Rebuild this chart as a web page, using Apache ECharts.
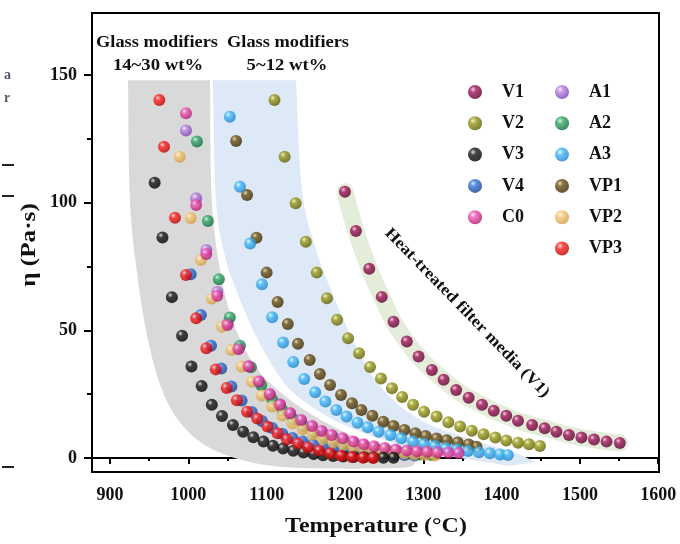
<!DOCTYPE html>
<html><head><meta charset="utf-8">
<script src="https://cdn.jsdelivr.net/npm/echarts@6/dist/echarts.min.js"></script>
<style>html,body{margin:0;padding:0;background:#fff}#c{width:680px;height:544px}</style>
</head><body><div id="c"></div>
<script>
// ---------------- data ----------------
const v1T  = [1200,1214,1231,1247,1262,1279,1294,1311,1326,1342,1358,1375,1390,1406,1421,1439,1455,1470,1486,1502,1518,1534,1551];
const v1Eta= [104.3,88.9,74.1,63.1,53.4,45.6,39.7,34.5,30.6,26.6,23.6,20.8,18.5,16.5,14.6,12.9,11.6,10.3,9.0,8.0,7.2,6.4,5.9];

const v2T  = [1110,1123,1137,1150,1164,1177,1190,1204,1218,1232,1246,1260,1273,1287,1301,1317,1332,1347,1362,1377,1392,1406,1421,1435,1449];
const v2Eta= [140.2,118,99.8,84.7,72.6,62.6,54.1,46.9,41,35.6,31.1,27.3,23.9,20.8,18.1,16.2,14,12.3,10.7,9.3,8,6.8,6,5.4,4.7];

const v3T  = [957,967,979,992,1004,1017,1030,1043,1057,1070,1083,1096,1108,1121,1134,1147,1160,1172,1185,1198,1211,1224,1236,1249,1262];
const v3Eta= [107.8,86.4,63,47.9,35.8,28.2,20.8,16.4,12.9,10.3,8.1,6.4,4.8,3.7,2.8,2.1,1.5,1.1,0.8,0.6,0.4,0.3,0.2,0.1,0.1];

const v4T  = [1003,1016,1029,1042,1055,1068,1081,1094,1107,1120,1133,1146,1159,1172,1185,1198,1211,1224,1237,1250,1263,1276,1289];
const v4Eta= [72,56,44,35,28,22.5,18,14.5,11.7,9.5,7.8,6.4,5.3,4.4,3.7,3.1,2.6,2.2,1.9,1.6,1.4,1.2,1.0];

const c0T  = [997,1010,1023,1037,1050,1064,1077,1090,1104,1117,1130,1144,1158,1170,1183,1197,1211,1224,1237,1251,1265,1279,1292,1305,1318,1332,1345];
const c0Eta= [135,99.1,79.9,63.5,52.1,42.6,35.8,29.9,25,20.8,17.5,14.9,12.5,10.6,9,7.7,6.4,5.4,4.6,3.9,3.3,2.9,2.6,2.4,2.2,2.0,1.9];

const a1T  = [997,1010,1023,1037,1050,1064,1077,1090,1104,1117,1130,1144,1158,1171,1184,1198,1211,1224,1238,1251,1264,1278,1291,1305];
const a1Eta= [128.3,101.7,81.5,65,52.8,43.2,36,30,25,21,17.5,14.6,12.2,10.2,8.6,7.2,6,5,4.2,3.5,3,2.5,2.1,1.8];

const a2T  = [1011,1025,1039,1053,1066,1080,1093,1107,1120,1134,1147,1161,1174,1188,1201,1215,1228,1242,1255,1269,1282,1296,1310];
const a2Eta= [124,92.8,70,55,44,35.5,28.5,23,18.8,15.3,12.5,10.2,8.3,6.8,5.5,4.5,3.7,3,2.5,2.1,1.7,1.4,1.2];

const a3T  = [1053,1066,1079,1094,1107,1121,1134,1148,1162,1175,1189,1202,1216,1229,1243,1258,1272,1287,1301,1315,1329,1343,1357,1371,1385,1398,1408];
const a3Eta= [133.7,106.2,84,68,55.1,45.2,37.6,30.9,25.7,22.1,18.8,16.2,13.8,12,10.3,9,7.7,6.4,5.5,4.7,3.9,3.3,2.7,2.2,1.8,1.4,1.2];

const vp1T = [1061,1075,1087,1100,1114,1127,1140,1155,1168,1181,1195,1209,1221,1235,1249,1262,1276,1290,1303,1317,1330,1344,1358,1368];
const vp1Eta=[124.2,103,86.3,72.6,61.1,52.5,44.7,38.4,32.9,28.6,24.7,21.4,18.8,16.5,14.2,12.5,11,9.7,8.6,7.6,6.9,6.1,5.3,4.4];

const vp2T = [989,1003,1016,1030,1043,1055,1068,1081,1094,1107,1120,1133,1146,1159,1172,1185,1198,1211,1224,1237,1250,1263,1276,1289,1302,1315];
const vp2Eta=[118,94,77.5,62.5,51.4,42.3,35.8,29.9,24.5,20.2,16.6,13.6,11.2,9.2,7.5,6.2,5.1,4.2,3.5,2.9,2.4,2,1.7,1.4,1.2,1];

const vp3T = [963,969,983,997,1010,1023,1035,1049,1062,1075,1088,1101,1114,1126,1140,1153,1167,1181,1195,1209,1223,1236];
const vp3Eta=[140.2,121.9,94.1,71.7,54.7,43,34.7,27.4,22.6,18.1,15.5,12.3,9.7,7.3,5.8,4.2,2.9,1.8,0.9,0.4,0.1,0];

// shaded guide bands, edges in data coordinates (top to bottom)
const grayOuter = [[923,148],[925.5,100],[935.7,69.7],[948.5,46.2],[966.4,26.6],[992,12.9],[1027.7,3.9],[1078.8,-1.6],[1142.6,-3.9],[1270,-3.9],[1289.5,-1.6]];
const grayInner = [[1027.7,148],[1030,100],[1043,69.7],[1061,50.1],[1089,34.5],[1130,22.7],[1181,12.9],[1232,5.9],[1283,0]];
const blueOuter = [[1031.5,148],[1035.4,100],[1048,77.6],[1066,62],[1089,46.2],[1119.7,30.5],[1149,21.9],[1193.7,13.7],[1257.6,6.3],[1334,0.8],[1411,-3.1]];
const blueInner = [[1137.5,148],[1145,105],[1163,81.5],[1183.5,65],[1213,44.3],[1247,27.4],[1296,14.9],[1360,7.4],[1417,2],[1443,-1.6]];

const xMajor = [900,1000,1100,1200,1300,1400,1500,1600];
const xMinor = [950,1050,1150,1250,1350,1450,1550];
const yMajor = [0,50,100,150];
const yMinor = [25,75,125];

const legendCol1 = ['V1','V2','V3','V4','C0'];
const legendCol2 = ['A1','A2','A3','VP1','VP2','VP3'];

// ---------------- chart ----------------
const FONT = 'Liberation Serif';
function ball(base, dark, hi){
  return {type:'radial', x:0.36, y:0.32, r:0.7,
    colorStops:[{offset:0,color:hi||'#ffffff'},{offset:0.32,color:base},{offset:1,color:dark}]};
}
function pts(t,e){ return t.map((x,i)=>[x,e[i]]); }
function sc(name,t,e,base,dark,hi){
  return {name, type:'scatter', data:pts(t,e), symbol:'circle', symbolSize:12,
    itemStyle:{color:ball(base,dark,hi)}, emphasis:{disabled:true}, z:3};
}
function spline(P, n){
  const out=[];
  for(let i=0;i<P.length-1;i++){
    const p0=P[Math.max(i-1,0)], p1=P[i], p2=P[i+1], p3=P[Math.min(i+2,P.length-1)];
    for(let k=0;k<n;k++){
      const t=k/n, t2=t*t, t3=t2*t;
      out.push([0,1].map(j=>0.5*((2*p1[j])+(-p0[j]+p2[j])*t+(2*p0[j]-5*p1[j]+4*p2[j]-p3[j])*t2+(-p0[j]+3*p1[j]-3*p2[j]+p3[j])*t3)));
    }
  }
  out.push(P[P.length-1]);
  return out;
}
function band(outer, inner, color){
  return {type:'custom', silent:true, clip:true, z:1, data:[[1000,50]],
    renderItem:(params, api)=>{
      const o=spline(outer.map(q=>api.coord(q)),8);
      const i=spline(inner.map(q=>api.coord(q)),8).reverse();
      return {type:'polygon', shape:{points:o.concat(i)}, style:{fill:color}};
    }};
}

const chart = echarts.init(document.getElementById('c'));
const legendBase = {orient:'vertical', padding:0, itemWidth:14, itemHeight:14, itemGap:13.3, icon:'circle',
  textStyle:{fontFamily:FONT, fontWeight:'bold', fontSize:18, color:'#111', padding:[0,0,0,15]}, selectedMode:false};
const plain = v => String(v);
const T = (text, x, y, size, opt) => Object.assign({type:'text', x, y,
  style:{text, font:'bold '+size+'px "Liberation Serif"', fill:'#111', textAlign:'center', textVerticalAlign:'middle'}}, opt||{});

chart.setOption({
  animation:false,
  backgroundColor:'#fff',
  grid:{left:92, right:21, top:13, bottom:72, show:true, borderColor:'#000', borderWidth:2},
  legend:[
    Object.assign({}, legendBase, {data:legendCol1, left:468, top:83}),
    Object.assign({}, legendBase, {data:legendCol2, left:555, top:83})
  ],
  xAxis:[
    {type:'value', min:877, max:1601, position:'bottom',
     axisLine:{lineStyle:{color:'#000', width:2}},
     axisTick:{customValues:xMajor, length:6, lineStyle:{color:'#000', width:2}},
     axisLabel:{customValues:xMajor, formatter:plain, margin:14, fontFamily:FONT, fontWeight:'bold', fontSize:18, color:'#111'},
     splitLine:{show:false}},
    {type:'value', min:877, max:1601, position:'bottom',
     axisLine:{show:false},
     axisTick:{customValues:xMinor, length:3, lineStyle:{color:'#000', width:2}},
     axisLabel:{show:false}, splitLine:{show:false}}
  ],
  yAxis:[
    {type:'value', min:-5.5, max:174.3, position:'left',
     axisLine:{show:true, lineStyle:{color:'#000', width:2}},
     axisTick:{show:true, customValues:yMajor, length:8, lineStyle:{color:'#000', width:2}},
     axisLabel:{customValues:yMajor, formatter:plain, margin:15, fontFamily:FONT, fontWeight:'bold', fontSize:18, color:'#111'},
     splitLine:{show:false}},
    {type:'value', min:-5.5, max:174.3, position:'left',
     axisLine:{show:false},
     axisTick:{show:true, customValues:yMinor, length:5, lineStyle:{color:'#000', width:2}},
     axisLabel:{show:false}, splitLine:{show:false}}
  ],
  series:[
    band(grayOuter, grayInner, '#d9d9d9'),
    band(blueOuter, blueInner, '#dde9f6'),
    {type:'line', silent:true, z:2, data:pts(v1T,v1Eta), symbol:'none', smooth:true,
     lineStyle:{color:'#e3edda', width:17, cap:'round'}},
    sc('V1', v1T, v1Eta, '#a0145a', '#5a0030', '#f6c6dc'),
    sc('V2', v2T, v2Eta, '#9a9a18', '#5c5c00', '#f2f2c0'),
    sc('VP1', vp1T, vp1Eta, '#6b4f12', '#3a2800', '#e0d0a8'),
    sc('A3', a3T, a3Eta, '#43b9f7', '#1c82c8', '#e6f6ff'),
    sc('A1', a1T, a1Eta, '#b982e0', '#7a42b0', '#f4e6ff'),
    sc('A2', a2T, a2Eta, '#31a96a', '#0f6a3a', '#d0f4e0'),
    sc('V4', v4T, v4Eta, '#2f74dc', '#123f90', '#d0e2ff'),
    sc('VP2', vp2T, vp2Eta, '#f3c777', '#cf9a40', '#fff6e0'),
    sc('C0', c0T, c0Eta, '#f052b1', '#b01870', '#ffe0f2'),
    sc('V3', v3T, v3Eta, '#161616', '#000000', '#d8d8d8'),
    sc('VP3', vp3T, vp3Eta, '#ff2222', '#bb0000', '#ffd8d8')
  ],
  graphic:[
    T('Glass modifiers', 157, 43, 17, {scaleX:1.08}),
    T('14~30 wt%', 158, 66, 17, {scaleX:1.1}),
    T('Glass modifiers', 288, 43, 17, {scaleX:1.08}),
    T('5~12 wt%', 287, 66, 17, {scaleX:1.1}),
    T('Heat-treated filter media (V1)', 467, 313, 16, {rotation:-0.80, scaleX:1.12}),
    T('Temperature (°C)', 376, 527, 21, {scaleX:1.14}),
    T('η (Pa·s)', 30, 245, 21, {rotation:Math.PI/2, scaleX:1.2}),
    {type:'text', x:4, y:75, style:{text:'a', font:'bold 14px "Liberation Serif"', fill:'#556', textVerticalAlign:'middle'}},
    {type:'text', x:4, y:98, style:{text:'r', font:'bold 14px "Liberation Serif"', fill:'#556', textVerticalAlign:'middle'}},
    {type:'line', shape:{x1:2,y1:165,x2:14,y2:165}, style:{stroke:'#222', lineWidth:2}},
    {type:'line', shape:{x1:2,y1:196,x2:14,y2:196}, style:{stroke:'#222', lineWidth:2}},
    {type:'line', shape:{x1:2,y1:467,x2:14,y2:467}, style:{stroke:'#222', lineWidth:2}}
  ]
});
</script>
</body></html>
